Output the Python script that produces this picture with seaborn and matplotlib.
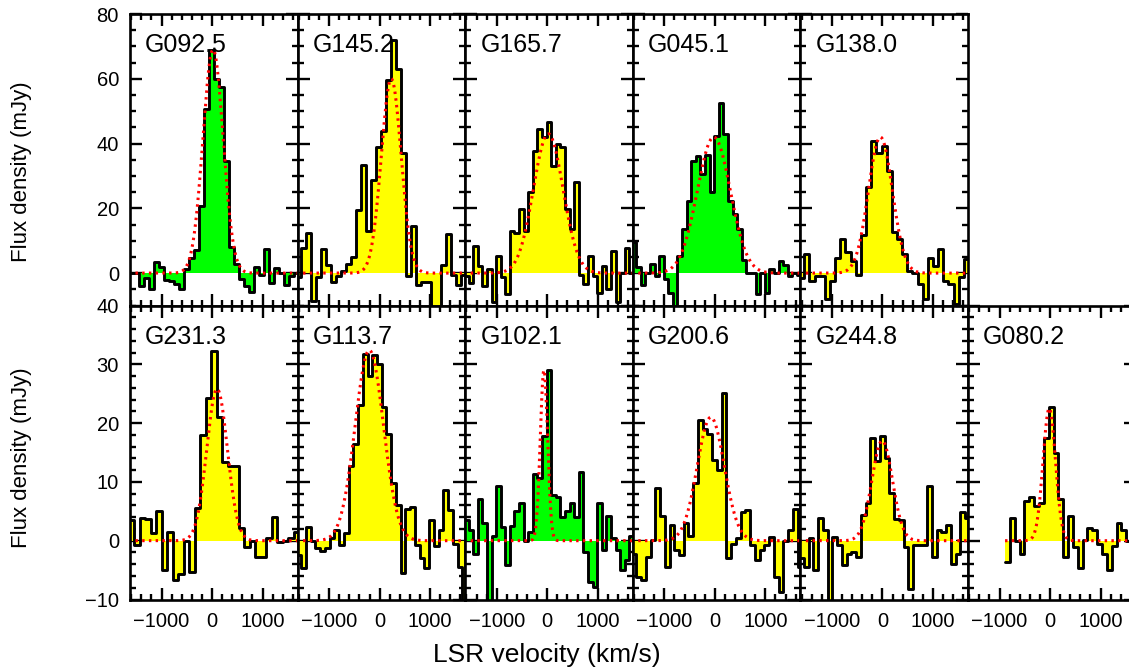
import numpy as np
import pandas as pd
import matplotlib
matplotlib.use("Agg")
import matplotlib.pyplot as plt
from matplotlib.ticker import MultipleLocator
import seaborn as sns

# source names, top row then bottom row
top_names = ["G092.5", "G145.2", "G165.7", "G045.1", "G138.0"]
bottom_names = ["G231.3", "G113.7", "G102.1", "G200.6", "G244.8", "G080.2"]

# spectra (mJy), one value per channel
flux_g092_5 = [0, 0, -4, -1.5, -5, 3.5, 2, -2, -2.5, -3.5, -5, 1.2, 4.6, 7.2, 20.6, 50.7, 68.8,
               60, 57.5, 34.7, 8, 2.9, -1.9, -4, -5.8, 2, -0.6, 7.4, -2.9, 1.5, 0, -3.6, -0.8, 0]
flux_g145_2 = [-1.3, 7.7, 12.4, -8.7, -1.3, 7.4, 2.6, -2.6, -1, 0.5, 2.8, 5, 19.4, 33.5, 12.9,
               28.8, 39, 44, 59.7, 72, 63, 37, -1, 14.4, -3.6, -2.6, -2.6, -12, -12, 2.6, 12,
               -0.5, -3.6, -0.5]
flux_g165_7 = [-1, -3, 8.5, 2.3, -4, 1.2, -9, 5.4, -1.3, -6.5, 13, 12.5, 19.8, 13, 25, 37.8,
               44.5, 42, 46.8, 33, 40, 39, 19.8, 13.6, 28, -0.5, -3.4, 5.4, -0.8, -6, 2.3, -5,
               6.9, -9, 0, 7.8, 0]
flux_g045_1 = [9.7, 1.8, -3.7, 0, 2.8, -0.8, 5.4, -1.9, -6, -11, 5.4, 13.6, 22.3, 34.7, 36.3,
               30.6, 36.5, 24.9, 42.4, 52.5, 43, 22.3, 18.2, 13.6, 4.1, 0, 0, -6.5, 0, -6, 1.2,
               0, 3.8, 2.5, -0.8, 0, -0.5]
flux_g138_0 = [-1.6, 5.9, -2.4, -0.8, -0.8, -8, -2.4, 4.8, 10.5, 6.4, 3.8, -0.6, 11.7, 26.5,
               40.9, 37, 39.3, 31.6, 12.6, 10.5, 5.9, 0.7, 0, -3.4, -8, 4.8, 2.3, 7.4, -2.4,
               -3.4, -9.6, -1.3, 4.5]
flux_g231_3 = [3.5, -0.7, 3.8, 3.7, 1.3, 5, -4.9, 1.4, -6.7, -5.6, 0, -5.3, 5.5, 18, 24.2, 32.2,
               21, 13.3, 12.7, 12.7, 2.1, -1, 0, -2.7, -2.7, 0.4, 4.1, -0.3, 0, 0.4, 1.5]
flux_g113_7 = [-2.5, -4.7, 2.4, 0, -1.3, -1.8, -1.3, 0.4, 1.9, -0.7, 1.3, 12.7, 16.4, 23, 31.8,
               28, 31.5, 30, 22.7, 18.1, 9.8, 6.1, -5.5, 5.4, 5.7, -0.7, -3, -4.7, 3.5, -0.9,
               1.8, 8.7, 5.3, -0.6, -4.5, -12]
flux_g102_1 = [3.5, 1.9, -2.2, 7.1, 3, -11, 0.8, 9.3, 2.4, -4.2, 2.5, 5, 6.4, 0, 1.5, 11.4, 10.7,
               17.8, 29, 7.8, 7.5, 4.1, 5.1, 6.4, 4.1, 11.7, -1.9, -7, -7.9, 6.4, -1.6, 4.2,
               0.5, -1.6, -5, -3.2, 0.8]
flux_g200_6 = [-2.2, -6.2, -6.7, -2.7, 0.2, 9, 4.2, -4.5, 2.7, -1.6, -2.5, 3, 0.8, 9.8, 20.6,
               19, 18.1, 13.8, 12.1, 25.1, -3, -0.5, 0.4, 4.8, 5.3, -0.7, -3.3, -1.6, -0.7,
               0.7, -6.2, -8.7, 0, 1.8, 5.4, -4.5]
flux_g244_8 = [-3, -4.5, 0.4, -5, 3.8, 1.8, -11, 0.7, -0.7, -4.2, -2.2, -1.9, -2.7, 4.4, 6.4,
               17.5, 13.5, 17.8, 14.1, 8.1, 3.7, 3.5, -1, -8.2, -0.7, -0.7, -0.7, 9.3, -2.7,
               1.9, 1.5, 2.7, -3.9, -2.2, 4.8, 3.8]
flux_g080_2 = [-3.6, 3.8, 0, -2.2, 6.7, 7.5, 5.9, 6.4, 17.4, 22.7, 15, 7.1, -2.7, 4.2, -1, -4.7,
               0.2, 2.1, 1.9, -0.5, -2.2, -5, -0.9, 3, 1.9, 0, 0]

spectra = [flux_g092_5, flux_g145_2, flux_g165_7, flux_g045_1, flux_g138_0,
           flux_g231_3, flux_g113_7, flux_g102_1, flux_g200_6, flux_g244_8, flux_g080_2]

# first channel edge and channel width (km/s)
chan_start = [-1650, -1650, -1650, -1650, -1650, -1650, -1650, -1650, -1650, -1650, -891]
chan_width = [99, 99, 91, 91, 102, 109, 94, 91, 94, 94, 96]

# gaussian fits: peak (mJy), centre (km/s), FWHM (km/s)
fit_peak = [69, 60, 43, 42, 42, 25.8, 32.4, 29, 21, 17, 22.5]
fit_center = [20, 230, 20, -20, -40, 100, -204, -65, -80, -5, -15]
fit_fwhm = [470, 460, 690, 770, 560, 480, 660, 170, 630, 480, 290]

# fill colour per source
fill_colors = ["#00ff00", "#ffff00", "#ffff00", "#00ff00", "#ffff00",
               "#ffff00", "#ffff00", "#00ff00", "#ffff00", "#ffff00", "#ffff00"]

sns.set_style("ticks")
plt.rcParams["font.family"] = ["Liberation Sans", "DejaVu Sans"]
plt.rcParams.update({"text.color": "black", "axes.labelcolor": "black",
                     "xtick.color": "black", "ytick.color": "black",
                     "axes.edgecolor": "black"})

W, H = 1129, 671
fig = plt.figure(figsize=(W / 100, H / 100), dpi=100)

panel_w = 167.6
x0 = 130
rows = [(14, 305.5, (-10, 80), 20, 5), (305.5, 599.5, (-10, 40), 10, 2)]

names = top_names + bottom_names
for k, name in enumerate(names):
    row = 0 if k < 5 else 1
    col = k if k < 5 else k - 5
    ytop, ybot, ylim, ymaj, ymin = rows[row]
    ax = fig.add_axes([(x0 + panel_w * col) / W, 1 - ybot / H,
                       panel_w / W, (ybot - ytop) / H])

    vals = np.array(spectra[k], dtype=float)
    edges = chan_start[k] + chan_width[k] * np.arange(len(vals) + 1)
    steps = np.append(vals, vals[-1])
    df = pd.DataFrame({"v": edges, "flux": steps})

    ax.fill_between(df["v"], df["flux"], 0, step="post", color=fill_colors[k], lw=0)
    sns.lineplot(data=df, x="v", y="flux", drawstyle="steps-post", color="black",
                 lw=2.1, ax=ax, estimator=None)

    vfit = np.linspace(edges[0], edges[-1], 600)
    model = fit_peak[k] * np.exp(-4 * np.log(2) * ((vfit - fit_center[k]) / fit_fwhm[k]) ** 2)
    sns.lineplot(x=vfit, y=model, color="red", lw=2.2, ls=(0, (0.8, 1.4)), ax=ax,
                 estimator=None)

    ax.set_xlim(-1625, 1695)
    ax.set_ylim(*ylim)
    ax.xaxis.set_major_locator(MultipleLocator(1000))
    ax.xaxis.set_minor_locator(MultipleLocator(200))
    ax.yaxis.set_major_locator(MultipleLocator(ymaj))
    ax.yaxis.set_minor_locator(MultipleLocator(ymin))
    ax.tick_params(which="both", direction="in", top=True, right=True, width=1.7,
                   labelsize=14.5, colors="black")
    ax.tick_params(which="major", length=8.5)
    ax.tick_params(which="minor", length=4.5)
    ax.tick_params(axis="x", pad=9, labelbottom=(row == 1))
    ax.tick_params(axis="y", pad=8, labelleft=(col == 0))
    for sp in ax.spines.values():
        sp.set_linewidth(1.9)
        sp.set_color("black")
    ax.set_xlabel("")
    ax.set_ylabel("")
    ax.text(0.09, 0.935, name, transform=ax.transAxes, va="top", ha="left", fontsize=18)

fig.text(22 / W, 1 - 172 / H, "Flux density (mJy)", rotation=90,
         ha="center", va="center", fontsize=16)
fig.text(22 / W, 1 - 458 / H, "Flux density (mJy)", rotation=90,
         ha="center", va="center", fontsize=16)
fig.text(547 / W, 1 - 655 / H, "LSR velocity (km/s)", ha="center", va="center", fontsize=19)

fig.savefig("out.png", dpi=100)
